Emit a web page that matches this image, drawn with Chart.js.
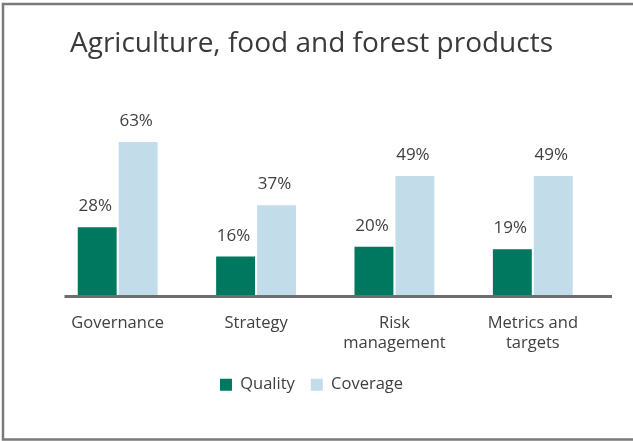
<!DOCTYPE html>
<html>
<head>
<meta charset="utf-8">
<script src="https://cdn.jsdelivr.net/npm/chart.js@4"></script>
<style>
html,body{margin:0;padding:0;background:#fff;}
#wrap{position:relative;width:633px;height:441px;}
canvas{display:block;}
</style>
</head>
<body>
<div id="wrap"><canvas id="c" width="633" height="441"></canvas></div>
<script>
const chartTitle = "Agriculture, food and forest products";
const categories = ["Governance", "Strategy", ["Risk", "management"], ["Metrics and", "targets"]];
const seriesNames = ["Quality", "Coverage"];
const quality = [28, 16, 20, 19];
const coverage = [63, 37, 49, 49];

const textColor = "#404040";
const fontFamily = "'Open Sans', 'Noto Sans', sans-serif";

const framePlugin = {
  id: "frame",
  beforeDraw(chart) {
    const ctx = chart.ctx;
    ctx.save();
    ctx.fillStyle = "#ffffff";
    ctx.fillRect(0, 0, chart.width, chart.height);
    ctx.strokeStyle = "#7a7a7a";
    ctx.lineWidth = 2.5;
    ctx.beginPath();
    ctx.moveTo(chart.width + 5, 4);
    ctx.lineTo(3, 4);
    ctx.lineTo(3, 439.5);
    ctx.lineTo(chart.width + 5, 439.5);
    ctx.stroke();
    ctx.restore();
  }
};

const labelPlugin = {
  id: "barLabels",
  afterDatasetsDraw(chart) {
    const ctx = chart.ctx;
    ctx.save();
    ctx.font = "17px " + fontFamily;
    ctx.fillStyle = textColor;
    ctx.textAlign = "center";
    ctx.textBaseline = "alphabetic";
    chart.data.datasets.forEach((ds, i) => {
      const meta = chart.getDatasetMeta(i);
      meta.data.forEach((bar, j) => {
        ctx.fillText(ds.data[j] + "%", bar.x - 2, bar.y - 16);
      });
    });
    // baseline axis line
    const y0 = chart.scales.y.getPixelForValue(0) + 1;
    ctx.strokeStyle = "#6e6e6e";
    ctx.lineWidth = 3;
    ctx.beginPath();
    ctx.moveTo(chart.chartArea.left + 16, y0);
    ctx.lineTo(chart.chartArea.right + 10, y0);
    ctx.stroke();
    ctx.restore();
  }
};

new Chart(document.getElementById("c"), {
  type: "bar",
  data: {
    labels: categories,
    datasets: [
      { label: seriesNames[0], data: quality, backgroundColor: "#00775f" },
      { label: seriesNames[1], data: coverage, backgroundColor: "#c3dcea" }
    ]
  },
  options: {
    responsive: false,
    animation: false,
    devicePixelRatio: 1,
    layout: { padding: { left: 21, right: 31, top: 20, bottom: 38 } },
    datasets: { bar: { categoryPercentage: 0.592, barPercentage: 0.95 } },
    scales: {
      x: {
        grid: { display: false, drawTicks: false },
        border: { display: false },
        ticks: { color: textColor, font: { family: fontFamily, size: 16.5, lineHeight: 1.22 }, padding: 18, maxRotation: 0, autoSkip: false },
        afterFit(scale) { scale.height = 65; }
      },
      y: {
        min: 0, max: 80,
        grid: { display: false, drawTicks: false },
        border: { display: false },
        ticks: { display: false },
        afterFit(scale) { scale.width = 27.5; }
      }
    },
    plugins: {
      title: {
        display: true,
        text: chartTitle,
        color: "#3a3a3a",
        font: { family: fontFamily, size: 28, weight: "normal", lineHeight: 1.2 },
        padding: { top: 7, bottom: 40 }
      },
      legend: {
        position: "bottom",
        labels: {
          color: textColor,
          font: { family: fontFamily, size: 16.5 },
          boxWidth: 12, boxHeight: 12, padding: 16
        }
      },
      tooltip: { enabled: false }
    }
  },
  plugins: [framePlugin, labelPlugin]
});
</script>
</body>
</html>
